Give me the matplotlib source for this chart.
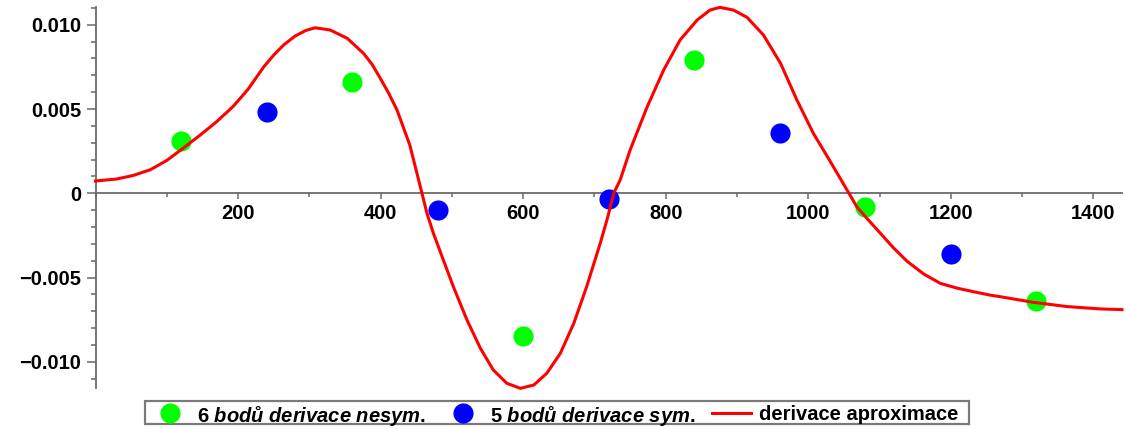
import matplotlib
matplotlib.use("Agg")
import matplotlib.pyplot as plt
from matplotlib.lines import Line2D
from matplotlib.patches import Rectangle
from matplotlib.ticker import MultipleLocator, FixedLocator, FuncFormatter

# ---- data ----
green_x = [120, 360, 600, 840, 1080, 1320]
green_y = [0.0031, 0.0066, -0.00846, 0.0079, -0.00081, -0.00641]

blue_x = [240, 480, 720, 960, 1200]
blue_y = [0.00482, -0.00099, -0.00034, 0.00358, -0.00362]

curve_x = [0, 30, 53, 77, 100, 119, 147, 170, 193, 214, 236, 250, 264, 280, 295,
           308, 329, 353, 376, 388, 399, 411, 423, 441, 458, 465, 474, 488, 502,
           521, 540, 558, 577, 596, 615, 633, 652, 671, 689, 708, 718, 727, 736,
           750, 774, 797, 820, 844, 862, 876, 895, 914, 937, 961, 984, 1007,
           1031, 1057, 1068, 1082, 1101, 1120, 1139, 1162, 1185, 1209, 1232,
           1255, 1270, 1316, 1363, 1410, 1440]
curve_y = [0.00073, 0.00085, 0.00106, 0.0014, 0.00195, 0.00255, 0.00346,
           0.00425, 0.00515, 0.00617, 0.0075, 0.0082, 0.0088, 0.00933, 0.00966,
           0.00982, 0.00969, 0.0092, 0.0083, 0.00765, 0.00686, 0.00596, 0.00494,
           0.00285, 0.0, -0.00119, -0.00237, -0.00396, -0.00554, -0.0075,
           -0.0092, -0.01048, -0.01127, -0.01157, -0.01137, -0.01068, -0.0095,
           -0.00771, -0.00554, -0.00297, -0.0015, 0.0, 0.00079, 0.00257,
           0.00514, 0.00731, 0.00909, 0.01028, 0.01087, 0.01103, 0.01087,
           0.01044, 0.00939, 0.00771, 0.00553, 0.00356, 0.00187, 0.0, -0.0008,
           -0.00148, -0.00237, -0.00326, -0.00405, -0.00479, -0.00534, -0.00563,
           -0.00584, -0.00604, -0.00614, -0.00647, -0.00672, -0.00686, -0.0069]

x_major = [200, 400, 600, 800, 1000, 1200, 1400]
y_major = [-0.010, -0.005, 0.0, 0.005, 0.010]
y_labels = ["\u22120.010", "\u22120.005", "0", "0.005", "0.010"]

legend_labels = ["6 $\\mathit{bodů}$ $\\mathit{derivace}$ $\\mathit{nesym.}$",
                 "5 $\\mathit{bodů}$ $\\mathit{derivace}$ $\\mathit{sym.}$",
                 "derivace aproximace"]

# ---- style ----
plt.rcParams['font.family'] = ['Liberation Sans', 'DejaVu Sans']
plt.rcParams['font.weight'] = 'bold'
plt.rcParams['mathtext.fontset'] = 'custom'
plt.rcParams['mathtext.it'] = 'Liberation Sans:italic:bold'
plt.rcParams['mathtext.rm'] = 'Liberation Sans:bold'

W, H = 1126, 429
fig = plt.figure(figsize=(W / 100, H / 100), dpi=100)
ax = fig.add_axes([95.5 / W, 1 - 388 / H, (1122 - 95.5) / W, (388 - 6.7) / H])

GREEN = '#00ff00'
BLUE = '#0000ff'
RED = '#ff0000'
AXC = '#6a6a6a'

ax.plot(green_x, green_y, 'o', color=GREEN, ms=14.5, mew=0, zorder=3, clip_on=False)
ax.plot(blue_x, blue_y, 'o', color=BLUE, ms=14.5, mew=0, zorder=3, clip_on=False)
ax.plot(curve_x, curve_y, '-', color=RED, lw=2.2, zorder=4, clip_on=False,
        solid_joinstyle='round')

ax.set_xlim(0, 1440)
ax.set_ylim(-0.01155, 0.01107)

for s in ['top', 'right']:
    ax.spines[s].set_visible(False)
ax.spines['bottom'].set_position(('data', 0))
ax.spines['left'].set_position(('data', 0))
for s in ['bottom', 'left']:
    ax.spines[s].set_color(AXC)
    ax.spines[s].set_linewidth(1.3)

ax.xaxis.set_major_locator(FixedLocator(x_major))
ax.xaxis.set_minor_locator(MultipleLocator(100))
ax.yaxis.set_major_locator(FixedLocator(y_major))
ax.yaxis.set_minor_locator(MultipleLocator(0.001))
ax.yaxis.set_major_formatter(FuncFormatter(
    lambda v, p: y_labels[min(range(len(y_major)), key=lambda i: abs(y_major[i] - v))]))

ax.tick_params(axis='x', which='major', direction='out', length=4.3, width=1.1,
               color=AXC, labelsize=14.5, pad=3.5)
ax.tick_params(axis='x', which='minor', direction='out', length=2.9, width=1.1, color=AXC)
ax.tick_params(axis='y', which='major', direction='out', length=6.5, width=1.1,
               color=AXC, labelsize=14.5, pad=3.6)
ax.tick_params(axis='y', which='minor', direction='out', length=3.6, width=1.1, color=AXC)
for lab in ax.get_xticklabels() + ax.get_yticklabels():
    lab.set_fontweight('bold')

# ---- legend (manual, figure pixel coords) ----
def fx(px):
    return px / W

def fy(py):
    return 1 - py / H

ycen = 412.5
fig.patches.append(Rectangle((fx(145), fy(424)), fx(969) - fx(145), (424 - 401) / H,
                             transform=fig.transFigure, fill=False,
                             edgecolor='#7a7a7a', lw=1.6, figure=fig))
fig.lines.append(Line2D([fx(170)], [fy(ycen)], marker='o', ms=14.5, mew=0,
                        color=GREEN, linestyle='none', transform=fig.transFigure, figure=fig))
fig.lines.append(Line2D([fx(463)], [fy(ycen)], marker='o', ms=14.5, mew=0,
                        color=BLUE, linestyle='none', transform=fig.transFigure, figure=fig))
fig.lines.append(Line2D([fx(712), fx(751)], [fy(ycen), fy(ycen)], color=RED, lw=2.2,
                        transform=fig.transFigure, figure=fig))
for xs, lab in zip([197, 490, 759], legend_labels):
    fig.text(fx(xs), fy(ycen), lab, fontsize=14.5, fontweight='bold',
             ha='left', va='center_baseline')

fig.savefig('out.png', dpi=100)
